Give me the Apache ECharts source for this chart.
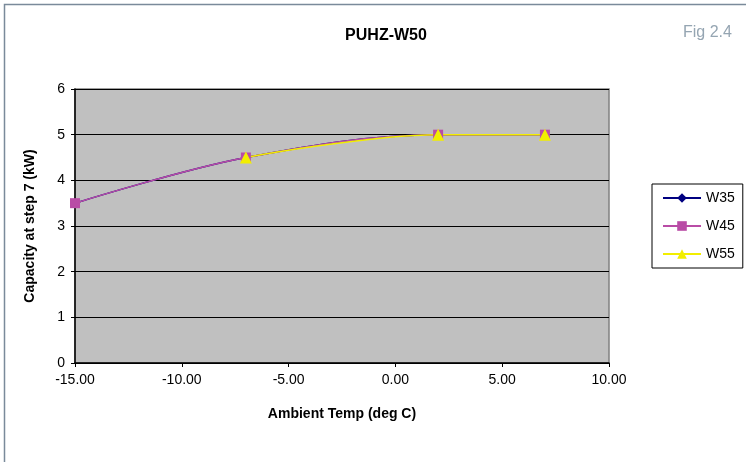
<!DOCTYPE html>
<html><head><meta charset="utf-8">
<script src="https://cdn.jsdelivr.net/npm/echarts@6/dist/echarts.min.js"></script>
<style>html,body{margin:0;padding:0;background:#fff}#c{width:746px;height:462px}</style>
</head><body><div id="c"></div>
<script>
var temps = [-15, -7, 2, 7];
var w35 = [3.5, 4.5, 5.0, 5.0];
var w45 = [3.5, 4.5, 5.0, 5.0];
var w55temps = [-7, 2, 7];
var w55 = [4.5, 5.0, 5.0];
var seriesNames = ['W35', 'W45', 'W55'];
var titleText = 'PUHZ-W50';
var figText = 'Fig 2.4';
var xName = 'Ambient Temp (deg C)';
var yName = 'Capacity at step 7 (kW)';

function pairs(xs, ys){ return xs.map(function(x,i){ return [x, ys[i]]; }); }

var font = '"Liberation Sans", Arial, sans-serif';
var chart = echarts.init(document.getElementById('c'));
chart.setOption({
  animation: false,
  textStyle: {fontFamily: font},
  graphic: [
    {type:'rect', shape:{x:4.5,y:4.5,width:760,height:470}, style:{fill:'none', stroke:'#7a8a9a', lineWidth:1.5}, z:-10},
    {type:'text', left:683, top:25, style:{text:figText, fill:'#95a5b2', font:'16px ' + font}}
  ],
  title: {text: titleText, left: 381, textAlign:'center', top: 23,
    textStyle:{fontSize:16, fontWeight:'bold', color:'#000', fontFamily: font}},
  legend: {
    orient:'vertical', left:652, top:184, width:90,
    padding:[7,8,7,10], itemGap:14, itemWidth:38, itemHeight:12,
    borderColor:'#000', borderWidth:1, backgroundColor:'#fff',
    textStyle:{fontSize:14, color:'#000', fontFamily: font},
    data: seriesNames
  },
  grid: {left:75, top:89, width:534, height:274, show:true, backgroundColor:'#c0c0c0', borderColor:'#808080', borderWidth:1.5},
  xAxis: {
    type:'value', min:-15, max:10, interval:5,
    name: xName, nameLocation:'middle', nameGap:44,
    nameTextStyle:{fontSize:14, fontWeight:'bold', color:'#000'},
    axisLine:{show:true, onZero:false, lineStyle:{color:'#000', width:1.5}},
    axisTick:{show:true, length:4, lineStyle:{color:'#000'}},
    axisLabel:{color:'#000', fontSize:14, margin:10, formatter:function(v){ return v.toFixed(2); }},
    splitLine:{show:false}
  },
  yAxis: {
    type:'value', min:0, max:6, interval:1,
    name: yName, nameLocation:'middle', nameGap:38,
    nameTextStyle:{fontSize:14, fontWeight:'bold', color:'#000'},
    axisLine:{show:true, onZero:false, lineStyle:{color:'#000', width:1.5}},
    axisTick:{show:true, length:4, lineStyle:{color:'#000'}},
    axisLabel:{color:'#000', fontSize:14, margin:10},
    splitLine:{show:true, lineStyle:{color:'#000', width:1}}
  },
  series: [
    {name:seriesNames[0], type:'line', data:pairs(temps,w35), smooth:0.35, symbol:'diamond', symbolSize:9,
      itemStyle:{color:'#000080'}, lineStyle:{color:'#000080', width:1.5}},
    {name:seriesNames[1], type:'line', data:pairs(temps,w45), smooth:0.35, symbol:'rect', symbolSize:10,
      itemStyle:{color:'#b94ca6'}, lineStyle:{color:'#b94ca6', width:1.5}},
    {name:seriesNames[2], type:'line', data:pairs(w55temps,w55), smooth:0.35, symbol:'triangle', symbolSize:12,
      itemStyle:{color:'#f2ee00'}, lineStyle:{color:'#f2ee00', width:1.5}}
  ]
});
</script></body></html>
